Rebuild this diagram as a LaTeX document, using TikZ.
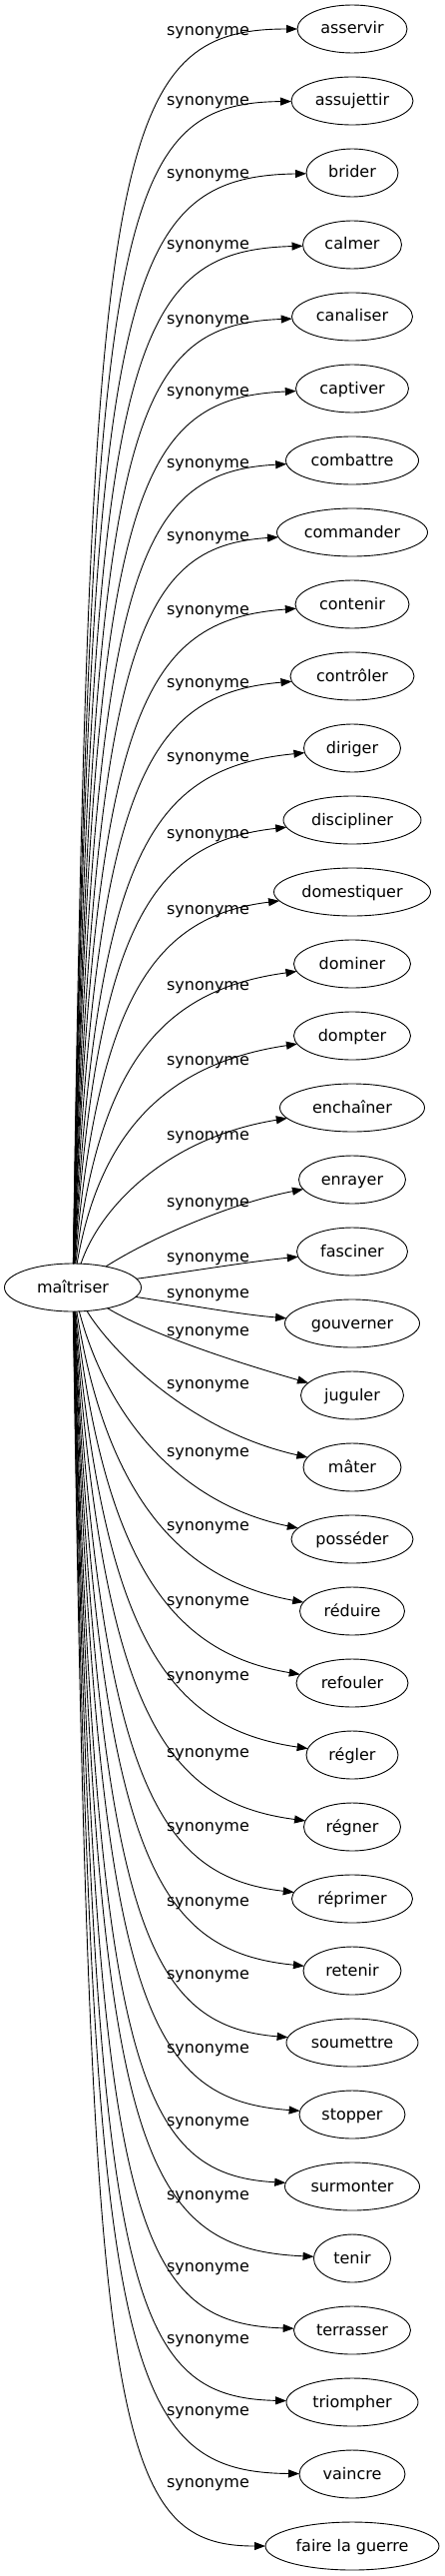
\documentclass[tikz,border=0pt]{standalone}
\usepackage{fontspec}
\setmainfont{DejaVu Sans}
\usetikzlibrary{arrows.meta,positioning,shapes.geometric}

\begin{document}
\begin{tikzpicture}[x=1pt, y=1pt,
  word/.style={ellipse, draw, line width=0.9pt, minimum height=48pt, inner sep=0pt, outer sep=0pt,
    text height=13pt, text depth=3pt, font=\fontsize{16pt}{19pt}\selectfont},
  lbl/.style={anchor=base, inner sep=0pt, font=\fontsize{16pt}{19pt}\selectfont},
  syn/.style={line width=0.9pt, -{Triangle[length=11pt,width=8pt]}}]
  \useasboundingbox (0,0) rectangle (446,-2579);

  % Define nodes
  \node[word, minimum width=137pt] (maitriser) at (73,-1289) {maîtriser};%
  \node[word, minimum width=110pt] (asservir) at (353,-29) {asservir};%
  \node[word, minimum width=122pt, below=24pt of asservir] (assujettir) {assujettir};%
  \node[word, minimum width=92pt, below=24pt of assujettir] (brider) {brider};%
  \node[word, minimum width=99pt, below=24pt of brider] (calmer) {calmer};%
  \node[word, minimum width=121pt, below=24pt of calmer] (canaliser) {canaliser};%
  \node[word, minimum width=113pt, below=24pt of canaliser] (captiver) {captiver};%
  \node[word, minimum width=133pt, below=24pt of captiver] (combattre) {combattre};%
  \node[word, minimum width=151pt, below=24pt of combattre] (commander) {commander};%
  \node[word, minimum width=114pt, below=24pt of commander] (contenir) {contenir};%
  \node[word, minimum width=124pt, below=24pt of contenir] (controler) {contrôler};%
  \node[word, minimum width=97pt, below=24pt of controler] (diriger) {diriger};%
  \node[word, minimum width=138pt, below=24pt of diriger] (discipliner) {discipliner};%
  \node[word, minimum width=157pt, below=24pt of discipliner] (domestiquer) {domestiquer};%
  \node[word, minimum width=117pt, below=24pt of domestiquer] (dominer) {dominer};%
  \node[word, minimum width=117pt, below=24pt of dominer] (dompter) {dompter};%
  \node[word, minimum width=145pt, below=24pt of dompter] (enchainer) {enchaîner};%
  \node[word, minimum width=107pt, below=24pt of enchainer] (enrayer) {enrayer};%
  \node[word, minimum width=111pt, below=24pt of enrayer] (fasciner) {fasciner};%
  \node[word, minimum width=135pt, below=24pt of fasciner] (gouverner) {gouverner};%
  \node[word, minimum width=103pt, below=24pt of gouverner] (juguler) {juguler};%
  \node[word, minimum width=98pt, below=24pt of juguler] (mater) {mâter};%
  \node[word, minimum width=122pt, below=24pt of mater] (posseder) {posséder};%
  \node[word, minimum width=105pt, below=24pt of posseder] (reduire) {réduire};%
  \node[word, minimum width=112pt, below=24pt of reduire] (refouler) {refouler};%
  \node[word, minimum width=92pt, below=24pt of refouler] (regler) {régler};%
  \node[word, minimum width=97pt, below=24pt of regler] (regner) {régner};%
  \node[word, minimum width=121pt, below=24pt of regner] (reprimer) {réprimer};%
  \node[word, minimum width=98pt, below=24pt of reprimer] (retenir) {retenir};%
  \node[word, minimum width=132pt, below=24pt of retenir] (soumettre) {soumettre};%
  \node[word, minimum width=106pt, below=24pt of soumettre] (stopper) {stopper};%
  \node[word, minimum width=135pt, below=24pt of stopper] (surmonter) {surmonter};%
  \node[word, minimum width=77pt, below=24pt of surmonter] (tenir) {tenir};%
  \node[word, minimum width=117pt, below=24pt of tenir] (terrasser) {terrasser};%
  \node[word, minimum width=132pt, below=24pt of terrasser] (triompher) {triompher};%
  \node[word, minimum width=106pt, below=24pt of triompher] (vaincre) {vaincre};%
  \node[word, minimum width=174pt, below=24pt of vaincre] (guerre) {faire la guerre};%

  % Edge labels
  \node[lbl] (l1) at (208.5,-36) {synonyme};%
  \node[lbl] (l2) at (208.5,-106) {synonyme};%
  \node[lbl] (l3) at (208.5,-179) {synonyme};%
  \node[lbl] (l4) at (208.5,-250) {synonyme};%
  \node[lbl] (l5) at (208.5,-324) {synonyme};%
  \node[lbl] (l6) at (208.5,-396) {synonyme};%
  \node[lbl] (l7) at (208.5,-468) {synonyme};%
  \node[lbl] (l8) at (208.5,-541) {synonyme};%
  \node[lbl] (l9) at (208.5,-615) {synonyme};%
  \node[lbl] (l10) at (208.5,-688) {synonyme};%
  \node[lbl] (l11) at (208.5,-762) {synonyme};%
  \node[lbl] (l12) at (208.5,-839) {synonyme};%
  \node[lbl] (l13) at (208.5,-915) {synonyme};%
  \node[lbl] (l14) at (208.5,-991) {synonyme};%
  \node[lbl] (l15) at (208.5,-1066) {synonyme};%
  \node[lbl] (l16) at (208.5,-1141) {synonyme};%
  \node[lbl] (l17) at (208.5,-1208) {synonyme};%
  \node[lbl] (l18) at (208.5,-1263) {synonyme};%
  \node[lbl] (l19) at (208.5,-1299) {synonyme};%
  \node[lbl] (l20) at (208.5,-1337) {synonyme};%
  \node[lbl] (l21) at (208.5,-1390) {synonyme};%
  \node[lbl] (l22) at (208.5,-1458) {synonyme};%
  \node[lbl] (l23) at (208.5,-1532) {synonyme};%
  \node[lbl] (l24) at (208.5,-1607) {synonyme};%
  \node[lbl] (l25) at (208.5,-1682) {synonyme};%
  \node[lbl] (l26) at (208.5,-1759) {synonyme};%
  \node[lbl] (l27) at (208.5,-1833) {synonyme};%
  \node[lbl] (l28) at (208.5,-1908) {synonyme};%
  \node[lbl] (l29) at (208.5,-1981) {synonyme};%
  \node[lbl] (l30) at (208.5,-2055) {synonyme};%
  \node[lbl] (l31) at (208.5,-2128) {synonyme};%
  \node[lbl] (l32) at (208.5,-2202) {synonyme};%
  \node[lbl] (l33) at (208.5,-2274) {synonyme};%
  \node[lbl] (l34) at (208.5,-2346) {synonyme};%
  \node[lbl] (l35) at (208.5,-2418) {synonyme};%
  \node[lbl] (l36) at (208.5,-2490) {synonyme};%

  % Edges going up
  \draw[syn] (maitriser) .. controls (90,-149) and (112,-29) .. (asservir);
  \draw[syn] (maitriser) .. controls (91,-220) and (116,-103) .. (assujettir);
  \draw[syn] (maitriser) .. controls (91,-290) and (119,-177) .. (brider);
  \draw[syn] (maitriser) .. controls (92,-361) and (123,-251) .. (calmer);
  \draw[syn] (maitriser) .. controls (93,-432) and (127,-325) .. (canaliser);
  \draw[syn] (maitriser) .. controls (93,-502) and (130,-399) .. (captiver);
  \draw[syn] (maitriser) .. controls (94,-573) and (134,-473) .. (combattre);
  \draw[syn] (maitriser) .. controls (95,-644) and (138,-547) .. (commander);
  \draw[syn] (maitriser) .. controls (95,-714) and (141,-621) .. (contenir);
  \draw[syn] (maitriser) .. controls (96,-785) and (145,-695) .. (controler);
  \draw[syn] (maitriser) .. controls (97,-856) and (149,-769) .. (diriger);
  \draw[syn] (maitriser) .. controls (97,-926) and (152,-843) .. (discipliner);
  \draw[syn] (maitriser) .. controls (98,-997) and (156,-917) .. (domestiquer);
  \draw[syn] (maitriser) .. controls (99,-1068) and (160,-991) .. (dominer);
  \draw[syn] (maitriser) .. controls (99,-1138) and (163,-1065) .. (dompter);
  \draw[syn] (maitriser) .. controls (100,-1209) and (167,-1139) .. (enchainer);

  % Edges near the middle
  \draw[syn] (maitriser) .. controls (150,-1240) and (230,-1205) .. (enrayer);
  \draw[syn] (maitriser) .. controls (190,-1273) and (250,-1263) .. (fasciner);
  \draw[syn] (maitriser) .. controls (180,-1305) and (240,-1316) .. (gouverner);
  \draw[syn] (maitriser) .. controls (150,-1335) and (230,-1362) .. (juguler);

  % Edges going down
  \draw[syn] (maitriser) .. controls (109,-1349) and (187,-1432) .. (mater);
  \draw[syn] (maitriser) .. controls (108,-1421) and (182,-1506) .. (posseder);
  \draw[syn] (maitriser) .. controls (106,-1493) and (177,-1581) .. (reduire);
  \draw[syn] (maitriser) .. controls (105,-1565) and (172,-1655) .. (refouler);
  \draw[syn] (maitriser) .. controls (104,-1637) and (167,-1730) .. (regler);
  \draw[syn] (maitriser) .. controls (103,-1709) and (162,-1804) .. (regner);
  \draw[syn] (maitriser) .. controls (101,-1781) and (157,-1879) .. (reprimer);
  \draw[syn] (maitriser) .. controls (100,-1853) and (152,-1953) .. (retenir);
  \draw[syn] (maitriser) .. controls (99,-1925) and (147,-2028) .. (soumettre);
  \draw[syn] (maitriser) .. controls (98,-1997) and (142,-2102) .. (stopper);
  \draw[syn] (maitriser) .. controls (96,-2069) and (137,-2177) .. (surmonter);
  \draw[syn] (maitriser) .. controls (95,-2141) and (132,-2251) .. (tenir);
  \draw[syn] (maitriser) .. controls (94,-2213) and (127,-2326) .. (terrasser);
  \draw[syn] (maitriser) .. controls (93,-2285) and (122,-2400) .. (triompher);
  \draw[syn] (maitriser) .. controls (91,-2357) and (117,-2475) .. (vaincre);
  \draw[syn] (maitriser) .. controls (90,-2429) and (112,-2549) .. (guerre);
\end{tikzpicture}
\end{document}
